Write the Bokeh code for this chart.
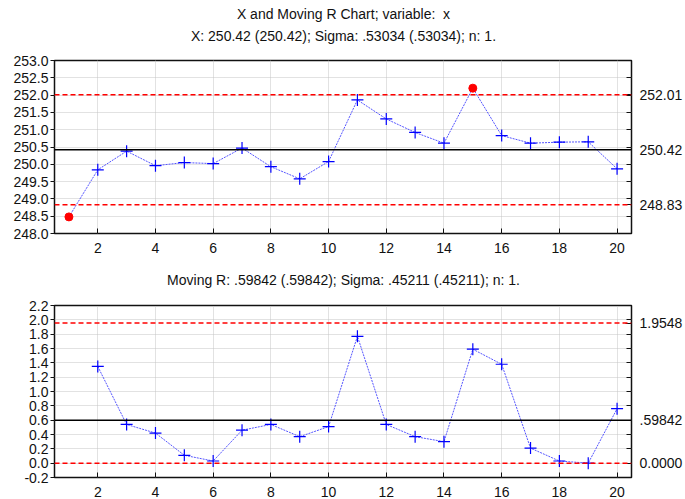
from bokeh.plotting import figure
from bokeh.layouts import column
from bokeh.models import (Label, LinearAxis, FixedTicker, PrintfTickFormatter,
                          CustomJSTickFormatter, Span, ColumnDataSource, Range1d)
from bokeh.embed import file_html
from bokeh.resources import INLINE

# ---------------- data ----------------
samples = list(range(1, 21))
x_values = [248.48, 249.84, 250.38, 249.96, 250.05, 250.02, 250.47, 249.93, 249.58, 250.08,
            251.86, 251.31, 250.92, 250.61, 252.20, 250.83, 250.61, 250.64, 250.65, 249.87]
x_center = 250.42
x_ucl = 252.01
x_lcl = 248.83
x_right_labels = ["248.83", "250.42", "252.01"]
x_left_ticks = [248.0, 248.5, 249.0, 249.5, 250.0, 250.5, 251.0, 251.5, 252.0, 252.5, 253.0]

mr_samples = list(range(2, 21))
mr_values = [1.35, 0.54, 0.42, 0.11, 0.03, 0.46, 0.54, 0.37, 0.51, 1.77,
             0.54, 0.37, 0.30, 1.59, 1.38, 0.21, 0.03, 0.00, 0.76]
mr_center = 0.59842
mr_ucl = 1.9548
mr_lcl = 0.0
mr_right_labels = ["0.0000", ".59842", "1.9548"]
mr_left_ticks = [-0.2, 0.0, 0.2, 0.4, 0.6, 0.8, 1.0, 1.2, 1.4, 1.6, 1.8, 2.0, 2.2]

x_ticks = [2, 4, 6, 8, 10, 12, 14, 16, 18, 20]

title1 = "X and Moving R Chart; variable:\u00a0 x"
title2 = "X: 250.42 (250.42); Sigma: .53034 (.53034); n: 1."
title3 = "Moving R: .59842 (.59842); Sigma: .45211 (.45211); n: 1."

FONT = "Liberation Sans"
TICK_SIZE = "14px"
TITLE_SIZE = "14px"
W = 685
BL, BR = 54, 53
FRAME_W = W - BL - BR


def title_fig(height, lines):
    t = figure(width=W, height=height, x_range=Range1d(0, 1), y_range=Range1d(0, 1),
               output_backend="svg", toolbar_location=None,
               x_axis_type=None, y_axis_type=None,
               min_border_left=0, min_border_right=0, min_border_top=0, min_border_bottom=0)
    t.grid.visible = False
    t.outline_line_color = None
    t.background_fill_color = "white"
    t.border_fill_color = "white"
    for text, y in lines:
        t.add_layout(Label(x=FRAME_W / 2, y=y, x_units="screen", y_units="screen", text=text,
                           text_font=FONT, text_font_size=TITLE_SIZE, text_color="#111111",
                           text_align="center", text_baseline="middle"))
    return t


def style(p, left_ticks, right_ticks, right_labels, minor):
    p.outline_line_color = "#111111"
    p.outline_line_width = 1.5
    p.background_fill_color = "white"
    p.border_fill_color = "white"
    p.xgrid.ticker = FixedTicker(ticks=x_ticks)
    p.ygrid.ticker = FixedTicker(ticks=left_ticks)
    for g in (p.xgrid, p.ygrid):
        g.grid_line_color = "#c4c4c4"
        g.grid_line_dash = "1 1"
        g.grid_line_width = 1
    xa = p.xaxis[0]
    xa.ticker = FixedTicker(ticks=x_ticks)
    xa.axis_line_color = None
    xa.major_tick_out = 0
    xa.major_tick_in = 5
    xa.major_label_standoff = 9
    ya = p.yaxis[0]
    ya.ticker = FixedTicker(ticks=left_ticks)
    ya.formatter = PrintfTickFormatter(format="%.1f")
    ya.axis_line_color = None
    ya.major_tick_out = 4
    ya.major_tick_in = 0
    ya.major_label_standoff = 2
    ra = LinearAxis(ticker=FixedTicker(ticks=right_ticks, minor_ticks=minor),
                    formatter=CustomJSTickFormatter(args=dict(labels=right_labels),
                                                    code="return labels[index];"))
    ra.axis_line_color = None
    ra.major_tick_out = 0
    ra.major_tick_in = 6
    ra.minor_tick_out = 0
    ra.minor_tick_in = 5
    ra.major_label_standoff = 8
    p.add_layout(ra, "right")
    for ax in (xa, ya, ra):
        ax.major_label_text_font = FONT
        ax.major_label_text_font_size = TICK_SIZE
        ax.major_label_text_color = "#111111"
        ax.major_tick_line_color = "#111111"
        ax.minor_tick_line_color = "#111111" if ax is ra else None


# ---------------- X chart ----------------
t1 = title_fig(48, [(title1, 35), (title2, 13)])
p1 = figure(width=W, height=214, x_range=(0.5, 20.5), y_range=(248.0, 253.0),
            output_backend="svg", toolbar_location=None,
            min_border_left=BL, min_border_right=BR, min_border_top=12, min_border_bottom=29)
style(p1, x_left_ticks, [x_lcl, x_center, x_ucl], x_right_labels, x_left_ticks)

for loc, col, dash in ((x_ucl, "red", "5 3"), (x_lcl, "red", "5 3"), (x_center, "black", "solid")):
    p1.add_layout(Span(location=loc, dimension="width", line_color=col,
                       line_dash=dash, line_width=1.5))

src1 = ColumnDataSource(dict(x=samples, y=x_values))
p1.line("x", "y", source=src1, line_color="#5555ff", line_dash="2 1", line_width=1)
in_x = [s for s, v in zip(samples, x_values) if x_lcl <= v <= x_ucl]
in_y = [v for v in x_values if x_lcl <= v <= x_ucl]
out_x = [s for s, v in zip(samples, x_values) if not (x_lcl <= v <= x_ucl)]
out_y = [v for v in x_values if not (x_lcl <= v <= x_ucl)]
p1.scatter(in_x, in_y, marker="cross", size=12, line_color="#0000ff", line_width=1.2)
p1.scatter(out_x, out_y, marker="circle", size=8, fill_color="#ff0000", line_color="#ff0000")

# ---------------- Moving R chart ----------------
t2 = title_fig(30, [(title3, 13)])
p2 = figure(width=W, height=210, x_range=(0.5, 20.5), y_range=(-0.2, 2.2),
            output_backend="svg", toolbar_location=None,
            min_border_left=BL, min_border_right=BR, min_border_top=13, min_border_bottom=25)
style(p2, mr_left_ticks, [mr_lcl, mr_center, mr_ucl], mr_right_labels, mr_left_ticks)

for loc, col, dash in ((mr_ucl, "red", "5 3"), (mr_lcl, "red", "5 3"), (mr_center, "black", "solid")):
    p2.add_layout(Span(location=loc, dimension="width", line_color=col,
                       line_dash=dash, line_width=1.5))

src2 = ColumnDataSource(dict(x=mr_samples, y=mr_values))
p2.line("x", "y", source=src2, line_color="#5555ff", line_dash="2 1", line_width=1)
p2.scatter("x", "y", source=src2, marker="cross", size=12, line_color="#0000ff", line_width=1.2)

layout = column(t1, p1, t2, p2, spacing=0)
open("out.html", "w").write(file_html(layout, INLINE))
